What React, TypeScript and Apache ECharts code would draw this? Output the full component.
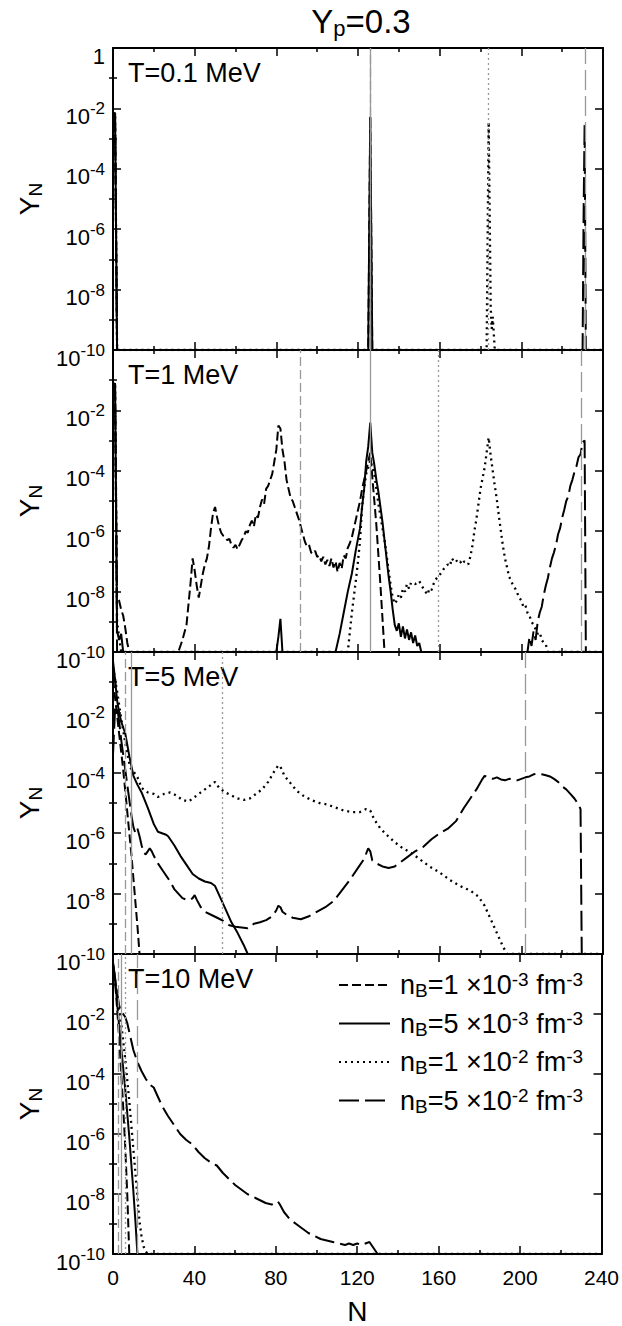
import React, { useEffect, useRef } from "react";
import * as echarts from "echarts";

type Pt = [number, number]; // [N, log10(Y_N)]

const FONT = "'Liberation Sans', Arial, Helvetica, sans-serif";

const TITLE = "{a|Y}{s|p}{a|=0.3}";
const PANEL_LABELS = ["T=0.1 MeV", "T=1 MeV", "T=5 MeV", "T=10 MeV"];
const SERIES_NAMES = ["nB=1e-3", "nB=5e-3", "nB=1e-2", "nB=5e-2"];
const LEGEND_LABELS = [
  "n{sub|B}=1 ×10{sup|-3} fm{sup|-3}",
  "n{sub|B}=5 ×10{sup|-3} fm{sup|-3}",
  "n{sub|B}=1 ×10{sup|-2} fm{sup|-3}",
  "n{sub|B}=5 ×10{sup|-2} fm{sup|-3}",
];
const X_MIN = 0;
const X_MAX = 240;
const X_STEP = 40;
const Y_LABEL_EXP_TOP = [-10, -8, -6, -4, -2, 0];
const Y_LABEL_EXP = [-10, -8, -6, -4, -2];
const Y_MAJOR_EXP = [-10, -8, -6, -4, -2, 0];
const Y_MINOR_EXP = [-9, -7, -5, -3, -1];

// gray reference lines (per panel, per density)
const REF_T01 = [126, 126, 184, 231.3];
const REF_T1 = [91.8, 126, 159.3, 229.5];
const REF_T5 = [5.8, 8.9, 53.6, 202];
const REF_T10 = [2.4, 4, 5.9, 11.7];

// ---------- T = 0.1 MeV ----------
const T01_1E3: Pt[] = [[0, -2.2], [1, -2.15], [2, -10], [125, -10], [126, -2.25], [127, -10], [240, -10]];
const T01_5E3: Pt[] = [[0, -2.2], [1, -2.15], [2, -10], [125, -10], [126, -2.3], [127, -10], [240, -10]];
const T01_1E2: Pt[] = [[0, -2.2], [1, -2.15], [2, -10], [183, -10], [184, -2.45], [185, -8.6], [185.5, -9.3], [186, -8.9], [187, -10], [240, -10]];
const T01_5E2: Pt[] = [[0, -2.2], [1, -2.15], [2, -10], [230, -10], [230.5, -5.5], [231, -2.5], [231.6, -10], [240, -10]];

// ---------- T = 1 MeV ----------
const T1_1E3: Pt[] = [
  [0, -1.2], [1, -1.1], [2, -8.2], [3, -8.3], [4, -8.6], [5, -8.8], [6, -9.2], [7, -9.7], [8, -10],
  [32, -10], [34, -9.6], [36, -9.1], [38, -7.7], [39, -6.9], [40, -7.3], [41, -7.8], [42, -8.2], [43, -7.8],
  [44, -7.4], [45, -7.1], [46, -6.9], [47, -6.5], [48, -5.9], [49, -5.4], [50, -5.2], [51, -5.55], [52, -5.85],
  [53, -6.05], [54, -6.15], [55, -6.2], [56, -6.3], [57, -6.25], [58, -6.45], [59, -6.55], [60, -6.45], [61, -6.6],
  [62, -6.45], [63, -6.3], [64, -6.2], [65, -6.0], [66, -6.05], [67, -5.8], [68, -5.65], [69, -5.85], [70, -5.45],
  [71, -5.55], [72, -5.2], [73, -4.95], [74, -5.1], [75, -4.6], [76, -4.5], [77, -4.3], [78, -4.1], [79, -3.7],
  [80, -3.3], [81, -2.5], [82, -2.6], [83, -3.3], [84, -3.7], [85, -4.3], [86, -4.6], [87, -4.9], [88, -5.0],
  [89, -5.2], [90, -5.4], [91, -5.6], [92, -5.85], [93, -6.1], [94, -6.35], [95, -6.5], [96, -6.45], [97, -6.7],
  [98, -6.75], [99, -6.65], [100, -6.85], [101, -6.8], [102, -7.0], [103, -6.85], [104, -7.1], [105, -6.95],
  [106, -7.15], [107, -6.9], [108, -7.2], [109, -7.0], [110, -7.35], [111, -7.05], [112, -7.25], [113, -6.8],
  [114, -6.9], [115, -6.55], [116, -6.4], [117, -6.2], [118, -5.9], [119, -5.6], [120, -5.3], [121, -5.0],
  [122, -4.6], [123, -4.3], [124, -4.0], [125, -3.7], [126, -3.4], [127, -4.2], [128, -5.0], [129, -5.8],
  [130, -6.8], [131, -7.8], [132, -8.9], [133, -10], [240, -10],
];
const T1_5E3: Pt[] = [
  [0, -1.2], [1, -1.1], [2, -9.3], [3, -9.6], [4, -9.4], [5, -10], [80, -10], [81, -9.5], [82, -8.9], [83, -10],
  [109, -10], [111, -9.4], [113, -8.7], [115, -8.0], [117, -7.4], [119, -6.6], [121, -5.9], [122, -5.2],
  [123, -4.6], [124, -3.7], [125, -3.2], [126, -2.4], [127, -3.4], [128, -3.8], [129, -4.3], [130, -4.7],
  [131, -5.2], [132, -5.7], [133, -6.3], [134, -6.9], [135, -7.5], [136, -8.0], [137, -8.6], [138, -9.1],
  [139, -9.3], [140, -9.05], [141, -9.5], [142, -9.15], [143, -9.55], [144, -9.25], [145, -9.6], [146, -9.35],
  [147, -9.7], [148, -9.45], [149, -9.8], [150, -9.7], [151, -10], [240, -10],
];
const T1_1E2: Pt[] = [
  [0, -1.2], [1, -1.1], [2, -9.0], [3, -9.5], [4, -10], [115, -10], [117, -8.7], [119, -7.6], [120, -7.0],
  [121, -6.3], [122, -5.2], [123, -4.6], [124, -4.1], [125, -3.9], [126, -3.65], [127, -3.9], [128, -4.1],
  [129, -4.6], [130, -5.1], [131, -5.5], [132, -5.9], [133, -6.3], [134, -6.8], [135, -7.3], [136, -7.8],
  [137, -8.2], [138, -8.4], [139, -8.3], [140, -8.1], [141, -8.2], [142, -7.9], [143, -8.0], [144, -7.75],
  [145, -7.9], [146, -7.7], [148, -7.75], [150, -7.65], [152, -7.9], [153, -8.0], [154, -8.1], [155, -7.9],
  [156, -7.95], [157, -7.75], [158, -7.6], [160, -7.45], [162, -7.25], [164, -7.1], [165, -7.15], [166, -6.9],
  [167, -7.0], [168, -6.95], [169, -7.05], [170, -7.0], [171, -7.1], [172, -7.0], [173, -7.05], [174, -7.1],
  [175, -6.85], [176, -6.5], [177, -6.0], [178, -5.6], [179, -5.1], [180, -4.6], [181, -4.25], [182, -3.9],
  [183, -3.4], [184, -2.9], [185, -3.5], [186, -4.0], [187, -4.5], [188, -4.95], [189, -5.5], [190, -6.0],
  [191, -6.5], [192, -6.9], [193, -7.2], [194, -7.5], [195, -7.65], [196, -7.8], [197, -7.9], [198, -8.05],
  [199, -8.2], [200, -8.3], [201, -8.5], [202, -8.45], [203, -8.7], [204, -8.8], [205, -9.0], [206, -9.1],
  [207, -9.25], [208, -9.4], [209, -9.35], [210, -9.6], [211, -9.7], [212, -9.75], [213, -10], [240, -10],
];
const T1_5E2: Pt[] = [
  [0, -1.2], [1, -1.1], [2, -10], [203, -10], [204, -9.5], [205, -9.8], [206, -9.3], [207, -9.6], [208, -9.0],
  [209, -8.7], [210, -8.5], [211, -8.1], [212, -7.8], [213, -7.55], [214, -7.2], [215, -6.9], [216, -6.7],
  [217, -6.45], [218, -6.1], [219, -5.9], [220, -5.55], [221, -5.3], [222, -5.0], [223, -4.85], [224, -4.5],
  [225, -4.3], [226, -4.05], [227, -3.85], [228, -3.55], [229, -3.45], [230, -3.05], [231, -3.0], [231.6, -10],
  [240, -10],
];

// ---------- T = 5 MeV ----------
const T5_1E3: Pt[] = [
  [0, -0.9], [1, -1.5], [2, -2.1], [3, -2.7], [4, -3.3], [5, -3.9], [6, -4.6], [7, -5.3], [8, -6.0], [9, -6.7],
  [10, -7.5], [11, -8.3], [12, -9.1], [13, -10], [240, -10],
];
const T5_5E3: Pt[] = [
  [0, -0.3], [1, -0.9], [2, -1.6], [3, -2.0], [4, -2.3], [6, -2.7], [8, -3.45], [10, -4.1], [12, -4.4],
  [14, -4.65], [17, -5.15], [20, -5.7], [22, -5.95], [24, -6.0], [26, -6.05], [27, -6.1], [28, -6.2],
  [30, -6.4], [33, -6.75], [36, -7.05], [39, -7.35], [42, -7.5], [45, -7.6], [48, -7.65], [50, -7.75],
  [52, -8.05], [55, -8.5], [58, -8.95], [61, -9.3], [64, -9.7], [66, -10], [240, -10],
];
const T5_1E2: Pt[] = [
  [0, -0.5], [2, -1.3], [4, -2.2], [6, -3.0], [8, -3.7], [9, -3.9], [10, -3.95], [12, -4.15], [14, -4.5],
  [17, -4.65], [20, -4.7], [22, -4.8], [25, -4.7], [28, -4.65], [31, -4.75], [34, -4.9], [37, -4.95],
  [40, -4.8], [43, -4.65], [46, -4.5], [49, -4.35], [50, -4.3], [52, -4.5], [55, -4.65], [58, -4.75],
  [61, -4.85], [64, -4.9], [67, -4.85], [70, -4.7], [73, -4.55], [76, -4.3], [79, -3.95], [81, -3.75],
  [82, -3.8], [84, -4.1], [87, -4.35], [90, -4.6], [93, -4.75], [97, -4.9], [101, -5.0], [105, -5.05],
  [109, -5.15], [113, -5.25], [117, -5.3], [121, -5.3], [124, -5.2], [126, -5.25], [128, -5.55], [131, -5.85],
  [134, -6.05], [138, -6.3], [142, -6.5], [146, -6.65], [150, -6.85], [155, -7.1], [160, -7.3], [165, -7.55],
  [170, -7.75], [175, -7.9], [179, -8.1], [182, -8.4], [185, -8.85], [188, -9.3], [191, -9.75], [193, -10],
  [240, -10],
];
const T5_5E2: Pt[] = [
  [0, -3.4], [1, -1.9], [2, -1.8], [3, -2.3], [4, -2.9], [5, -3.4], [6, -3.9], [7, -4.4], [8, -4.9], [9, -5.4],
  [10, -5.8], [11, -6.0], [12, -5.85], [13, -6.1], [14, -6.4], [15, -6.65], [16, -6.7], [17, -6.6], [18, -6.5],
  [19, -6.6], [20, -6.75], [22, -7.0], [24, -7.2], [26, -7.4], [28, -7.6], [30, -7.85], [32, -8.0], [34, -8.15],
  [36, -8.2], [38, -8.2], [39, -8.15], [40, -8.05], [41, -8.2], [43, -8.45], [45, -8.6], [48, -8.7], [51, -8.8],
  [54, -8.9], [57, -9.05], [60, -9.1], [63, -9.12], [66, -9.15], [69, -9.0], [72, -8.95], [75, -8.88],
  [78, -8.75], [80, -8.55], [81, -8.4], [82, -8.45], [83, -8.6], [85, -8.7], [88, -8.8], [92, -8.85],
  [96, -8.75], [100, -8.6], [104, -8.45], [108, -8.25], [112, -7.9], [116, -7.55], [120, -7.15], [123, -6.85],
  [125, -6.5], [126, -6.6], [127, -6.9], [129, -7.0], [132, -7.1], [135, -7.15], [138, -7.1], [141, -6.95],
  [144, -6.8], [148, -6.6], [152, -6.45], [156, -6.2], [160, -6.0], [164, -5.85], [168, -5.6], [172, -5.15],
  [175, -4.85], [178, -4.55], [181, -4.2], [182, -4.1], [184, -4.15], [186, -4.2], [188, -4.15], [190, -4.22],
  [192, -4.25], [194, -4.2], [196, -4.22], [198, -4.25], [200, -4.2], [202, -4.15], [204, -4.12], [206, -4.05],
  [208, -4.03], [210, -4.05], [212, -4.08], [214, -4.12], [216, -4.2], [218, -4.3], [220, -4.45], [222, -4.55],
  [224, -4.7], [226, -4.85], [228, -5.05], [229, -5.2], [229.6, -10], [240, -10],
];

// ---------- T = 10 MeV ----------
const T10_1E3: Pt[] = [[0, -0.6], [1, -0.9], [2, -1.8], [3, -2.8], [4, -3.9], [5, -5.1], [6, -6.4], [7, -8.0], [8, -10], [240, -10]];
const T10_5E3: Pt[] = [
  [0, -0.3], [1, -0.8], [2, -1.6], [3, -2.4], [4, -3.1], [5, -3.8], [6, -4.5], [7, -5.3], [8, -6.1], [9, -7.0],
  [10, -7.9], [11, -8.9], [12, -10], [240, -10],
];
const T10_1E2: Pt[] = [
  [0, -0.4], [1, -0.9], [2, -1.4], [3, -1.9], [4, -2.3], [5, -2.9], [6, -3.5], [7, -4.2], [8, -4.9], [9, -5.7],
  [10, -6.5], [11, -7.3], [12, -8.1], [13, -8.9], [14, -9.4], [15, -9.75], [16, -9.9], [17, -10], [240, -10],
];
const T10_5E2: Pt[] = [
  [0, -0.3], [1, -0.8], [2, -1.3], [3, -1.7], [4, -1.95], [5, -2.0], [6, -2.1], [7, -2.3], [8, -2.6], [9, -2.9],
  [10, -3.2], [11, -3.4], [12, -3.6], [13, -3.75], [14, -3.9], [16, -4.15], [18, -4.35], [20, -4.45], [22, -4.75],
  [24, -5.05], [27, -5.4], [30, -5.7], [33, -6.0], [36, -6.2], [39, -6.35], [42, -6.6], [45, -6.8], [48, -6.95],
  [51, -7.05], [54, -7.3], [57, -7.5], [60, -7.7], [63, -7.85], [66, -8.0], [69, -8.1], [72, -8.2], [75, -8.3],
  [78, -8.35], [80, -8.3], [81, -8.25], [82, -8.35], [84, -8.6], [87, -8.85], [90, -9.0], [93, -9.15], [96, -9.3],
  [99, -9.4], [102, -9.5], [105, -9.55], [108, -9.6], [111, -9.65], [114, -9.7], [116, -9.65], [118, -9.7],
  [120, -9.65], [122, -9.7], [124, -9.65], [126, -9.6], [127, -9.7], [128, -9.8], [130, -10], [240, -10],
];

const PANEL_DATA: Pt[][][] = [
  [T01_1E3, T01_5E3, T01_1E2, T01_5E2],
  [T1_1E3, T1_5E3, T1_1E2, T1_5E2],
  [T5_1E3, T5_5E3, T5_1E2, T5_5E2],
  [T10_1E3, T10_5E3, T10_1E2, T10_5E2],
];
const REF_LINES = [REF_T01, REF_T1, REF_T5, REF_T10];

// layout
const GRID_LEFT = 113;
const GRID_W = 490;
const TOP0 = 48;
const PANEL_H = 302;

const LINE_TYPES: any[] = [[9, 4], "solid", [2, 4], [20, 6]];
const LINE_WIDTHS = [2, 2, 2.3, 2];
const REF_TYPES: any[] = [[9, 4], "solid", [2, 3], [20, 6]];

const pow10 = (e: number) => Number("1e" + e);

export default function App() {
  const ref = useRef<HTMLDivElement>(null);
  useEffect(() => {
    document.body.style.margin = "0";
    if (!ref.current) return;
    const chart = echarts.init(ref.current, undefined, { renderer: "svg" });

    const grid: any[] = [];
    const xAxis: any[] = [];
    const yAxis: any[] = [];
    const series: any[] = [];
    const graphic: any[] = [];

    const tickLine = { color: "#000", width: 1.5 };
    const frameLine = { show: true, onZero: false, lineStyle: { color: "#000", width: 2 } };

    for (let p = 0; p < 4; p++) {
      const top = TOP0 + p * PANEL_H;
      grid.push({ left: GRID_LEFT, width: GRID_W, top, height: PANEL_H, show: false });

      ["bottom", "top"].forEach((pos) => {
        const isLabelled = pos === "bottom" && p === 3;
        xAxis.push({
          gridIndex: p,
          type: "value",
          position: pos,
          min: X_MIN,
          max: X_MAX,
          interval: X_STEP,
          axisLine: frameLine,
          axisTick: { show: true, inside: true, length: 8, lineStyle: tickLine },
          minorTick: { show: true, splitNumber: 2, length: 4, lineStyle: tickLine },
          splitLine: { show: false },
          minorSplitLine: { show: false },
          axisLabel: {
            show: isLabelled,
            fontSize: 21,
            fontFamily: FONT,
            color: "#000",
            margin: 13,
          },
          name: isLabelled ? "N" : "",
          nameLocation: "middle",
          nameGap: 43,
          nameTextStyle: { fontSize: 28, fontFamily: FONT, color: "#000" },
        });
      });

      ["left", "right"].forEach((pos) => {
        const isLeft = pos === "left";
        yAxis.push({
          gridIndex: p,
          type: "log",
          logBase: 10,
          position: pos,
          min: 1e-10,
          max: 1,
          axisLine: frameLine,
          splitLine: { show: false },
          axisTick: {
            show: true,
            inside: true,
            length: 8,
            lineStyle: tickLine,
            customValues: Y_MAJOR_EXP.map(pow10),
          },
          axisLabel: {
            show: isLeft,
            customValues: (p === 0 ? Y_LABEL_EXP_TOP : Y_LABEL_EXP).map(pow10),
            formatter: (v: number) => {
              const e = Math.round(Math.log10(v));
              return e === 0 ? "{b|1}" : `{b|10}{sup|${e}}`;
            },
            margin: 8,
            padding: [16, 0, 0, 0],
            color: "#000",
            fontFamily: FONT,
            fontSize: 22,
            rich: {
              b: { fontSize: 22, lineHeight: 32, fontFamily: FONT, color: "#000" },
              sup: { fontSize: 17, lineHeight: 8, verticalAlign: "top", fontFamily: FONT, color: "#000" },
            },
          },
          name: isLeft ? "{a|Y}{s|N}" : "",
          nameLocation: "middle",
          nameRotate: 90,
          nameGap: 66,
          nameTextStyle: {
            color: "#000",
            fontFamily: FONT,
            fontSize: 28,
            rich: {
              a: { fontSize: 28, lineHeight: 32, fontFamily: FONT, color: "#000" },
              s: { fontSize: 19, lineHeight: 12, verticalAlign: "bottom", fontFamily: FONT, color: "#000" },
            },
          },
        });
        // minor decade ticks
        yAxis.push({
          gridIndex: p,
          type: "log",
          logBase: 10,
          position: pos,
          offset: 0,
          min: 1e-10,
          max: 1,
          axisLine: { show: false },
          splitLine: { show: false },
          axisTick: {
            show: true,
            inside: true,
            length: 4,
            lineStyle: tickLine,
            customValues: Y_MINOR_EXP.map(pow10),
          },
          axisLabel: { show: false },
        });
      });

      for (let s = 0; s < 4; s++) {
        series.push({
          type: "line",
          name: SERIES_NAMES[s],
          xAxisIndex: p * 2,
          yAxisIndex: p * 4,
          data: PANEL_DATA[p][s].map(([n, e]) => [n, Math.pow(10, e)]),
          showSymbol: false,
          symbol: "none",
          lineStyle: { color: "#000", width: LINE_WIDTHS[s], type: LINE_TYPES[s] },
          itemStyle: { color: "#000" },
          z: 3,
          clip: true,
          emphasis: { disabled: true },
          markLine: {
            silent: true,
            symbol: ["none", "none"],
            label: { show: false },
            emphasis: { disabled: true },
            lineStyle: { color: "#999", width: 1.3, type: REF_TYPES[s] },
            data: [{ xAxis: REF_LINES[p][s] }],
          },
        });
      }

      graphic.push({
        type: "text",
        x: 128,
        y: top + 25,
        style: {
          text: PANEL_LABELS[p],
          fontSize: 27,
          fontFamily: FONT,
          fill: "#000",
          verticalAlign: "middle",
          textVerticalAlign: "middle",
        },
      });
    }

    graphic.push({
      type: "text",
      x: GRID_LEFT + GRID_W / 2 + 3,
      y: 21,
      style: {
        text: TITLE,
        fill: "#000",
        fontFamily: FONT,
        fontSize: 33,
        align: "center",
        textAlign: "center",
        verticalAlign: "middle",
        textVerticalAlign: "middle",
        rich: {
          a: { fontSize: 33, lineHeight: 36, fontFamily: FONT, fill: "#000", color: "#000" },
          s: { fontSize: 22, lineHeight: 12, verticalAlign: "bottom", fontFamily: FONT, fill: "#000", color: "#000" },
        },
      },
    });

    chart.setOption({
      animation: false,
      backgroundColor: "#fff",
      grid,
      xAxis,
      yAxis,
      series,
      graphic,
      legend: {
        show: true,
        orient: "vertical",
        left: 338,
        top: 970,
        padding: 0,
        itemWidth: 51,
        itemHeight: 14,
        itemGap: 8.5,
        data: SERIES_NAMES,
        selectedMode: false,
        itemStyle: { opacity: 0, borderWidth: 0 },
        formatter: (name: string) => LEGEND_LABELS[SERIES_NAMES.indexOf(name)],
        textStyle: {
          fontSize: 27,
          lineHeight: 30,
          fontFamily: FONT,
          color: "#000",
          padding: [0, 0, 0, 5],
          rich: {
            sub: { fontSize: 19, lineHeight: 14, verticalAlign: "bottom", fontFamily: FONT, color: "#000" },
            sup: { fontSize: 19, lineHeight: 8, verticalAlign: "top", fontFamily: FONT, color: "#000" },
          },
        },
      },
    });

    return () => chart.dispose();
  }, []);

  return <div ref={ref} style={{ width: 622, height: 1326 }} />;
}
